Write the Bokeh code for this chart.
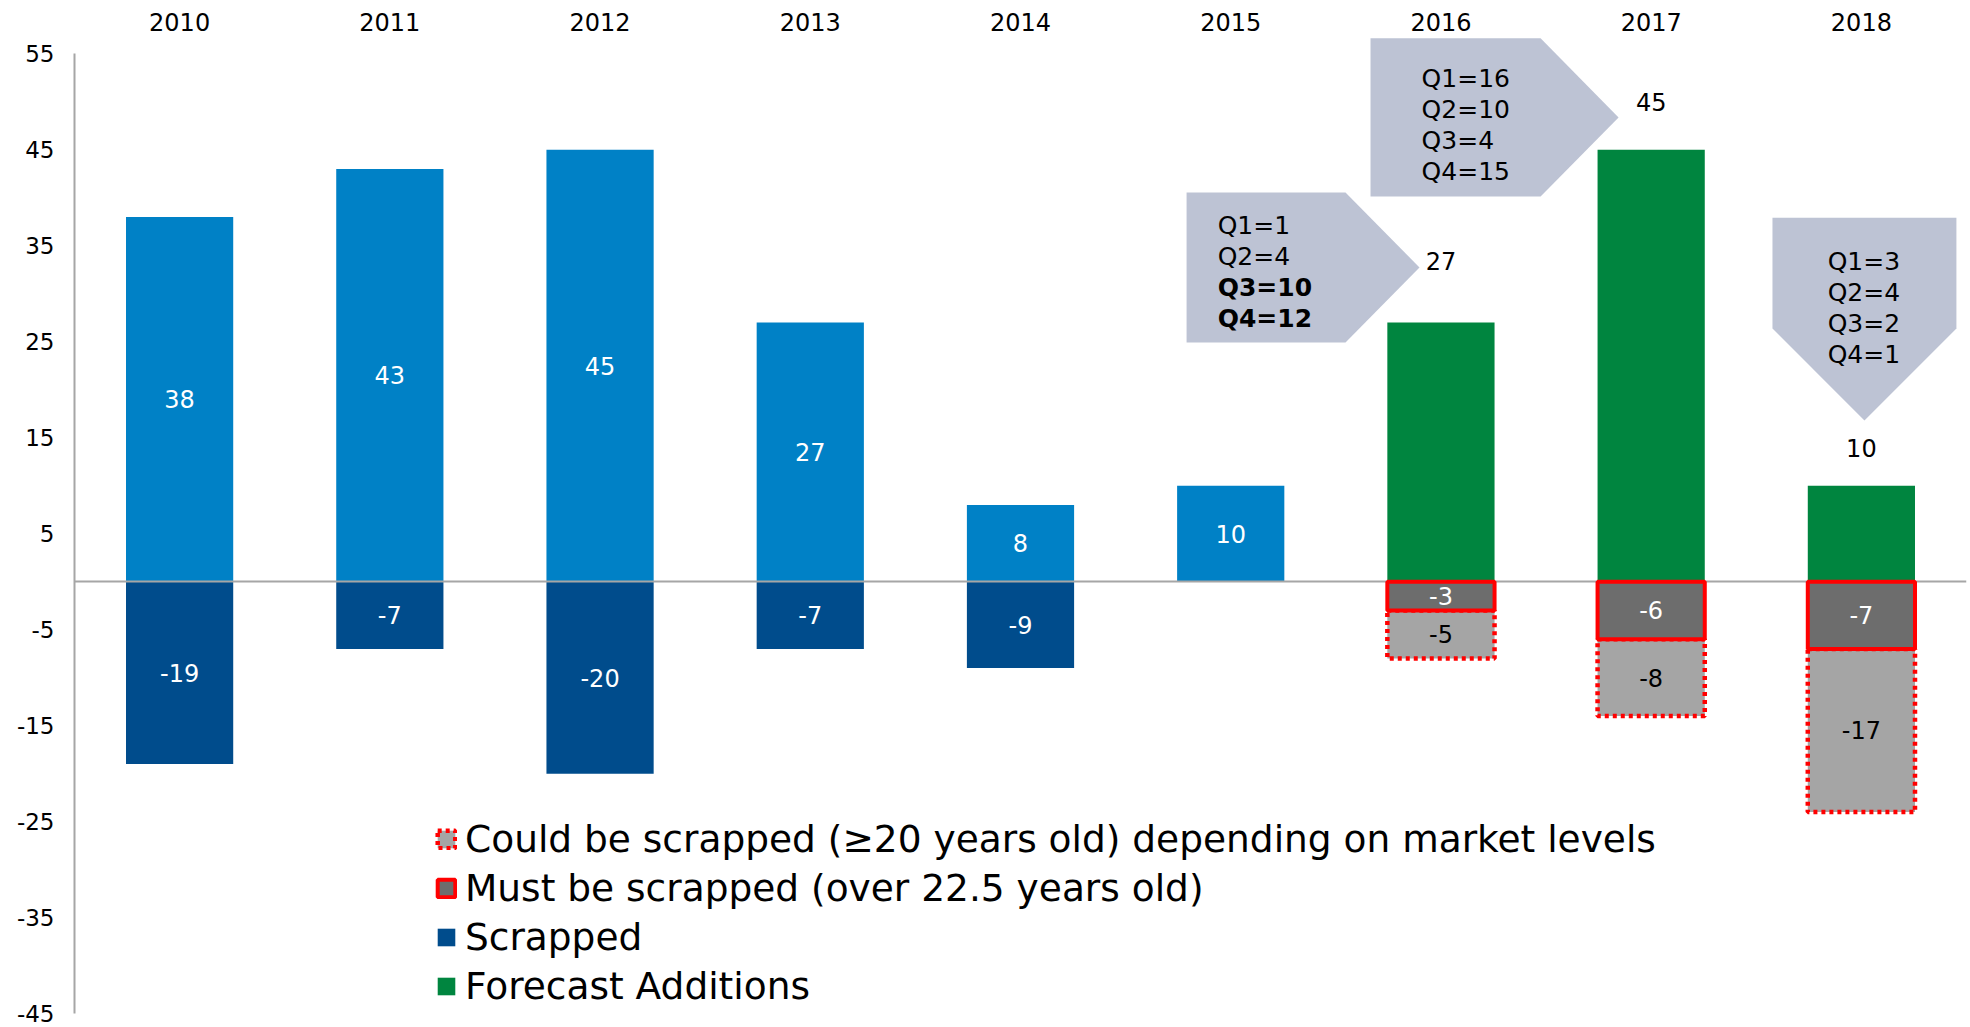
import numpy as np
from bokeh.plotting import figure
from bokeh.models import (ColumnDataSource, FactorRange, Range1d,
                          LinearAxis, FixedTicker, Legend, LegendItem)
from bokeh.core.properties import value
from bokeh.embed import file_html
from bokeh.resources import INLINE

# ---------------- data ----------------
years = ["2010", "2011", "2012", "2013", "2014", "2015", "2016", "2017", "2018"]

actual_years = ["2010", "2011", "2012", "2013", "2014", "2015"]
additions = [38, 43, 45, 27, 8, 10]

scrapped_years = ["2010", "2011", "2012", "2013", "2014"]
scrapped = [-19, -7, -20, -7, -9]

forecast_years = ["2016", "2017", "2018"]
forecast_additions = [27, 45, 10]
must_be_scrapped = [-3, -6, -7]
could_be_scrapped = [-5, -8, -17]

quarter_names = ["Q1", "Q2", "Q3", "Q4"]
quarters_2016 = [1, 4, 10, 12]
quarters_2017 = [16, 10, 4, 15]
quarters_2018 = [3, 4, 2, 1]

y_ticks = [-45, -35, -25, -15, -5, 5, 15, 25, 35, 45, 55]

legend_labels = [
    "Could be scrapped (\u226520 years old) depending on market levels",
    "Must be scrapped (over 22.5 years old)",
    "Scrapped",
    "Forecast Additions",
]

# ---------------- style ----------------
FONT = "DejaVu Sans"
BLUE = "#0081C6"
DARK_BLUE = "#004C8C"
GREEN = "#00853F"
MUST_GRAY = "#6D6D6D"
COULD_GRAY = "#A5A5A5"
RED = "#FF0000"
CALLOUT = "#BDC3D4"
AXIS_GRAY = "#A6A6A6"
BAR_W = 0.51
LABEL_SIZE = "24px"
YEAR_LABEL_Y = 58.25                       # value level of the year captions
forecast_label_offsets = [-61, -48, -38]   # screen px above bar tops

p = figure(x_range=FactorRange(factors=years, range_padding=0, factor_padding=0),
           y_range=Range1d(-46.44, 60.54),
           width=1970, height=1027, output_backend="svg", toolbar_location=None,
           x_axis_location=None, y_axis_location=None,
           min_border_left=74, min_border_right=4, min_border_top=0, min_border_bottom=0,
           outline_line_color=None, background_fill_color="white", border_fill_color="white")
p.xgrid.visible = False
p.ygrid.visible = False

yaxis = LinearAxis(ticker=FixedTicker(ticks=y_ticks), bounds=(-45, 55),
                   axis_line_color=AXIS_GRAY, axis_line_width=2,
                   major_tick_line_color=None, minor_tick_line_color=None,
                   major_tick_out=0, major_tick_in=0,
                   major_label_overrides={t: str(t) for t in y_ticks},
                   major_label_text_font=FONT, major_label_text_font_size="23px",
                   major_label_text_color="black", major_label_standoff=20)
p.add_layout(yaxis, "left")

# year captions along the top
p.text(x=years, y=[YEAR_LABEL_Y] * len(years), text=years, text_align="center",
       text_baseline="middle", text_font=value(FONT), text_font_size="24px",
       text_color="black")

# ---------------- bars ----------------
src_add = ColumnDataSource(dict(x=actual_years, top=additions,
                                mid=[v / 2 for v in additions],
                                label=[str(v) for v in additions]))
src_scr = ColumnDataSource(dict(x=scrapped_years, bottom=scrapped,
                                mid=[v / 2 for v in scrapped],
                                label=[str(v) for v in scrapped]))
could_top = list(must_be_scrapped)
could_bottom = [m + c for m, c in zip(must_be_scrapped, could_be_scrapped)]
src_fc = ColumnDataSource(dict(x=forecast_years, top=forecast_additions,
                               label=[str(v) for v in forecast_additions],
                               yoff=forecast_label_offsets,
                               must=must_be_scrapped,
                               must_mid=[v / 2 for v in must_be_scrapped],
                               must_label=[str(v) for v in must_be_scrapped],
                               could_top=could_top, could_bottom=could_bottom,
                               could_mid=[(a + b) / 2 for a, b in zip(could_top, could_bottom)],
                               could_label=[str(v) for v in could_be_scrapped]))

r_add = p.vbar(x="x", top="top", bottom=0, width=BAR_W, source=src_add,
               fill_color=BLUE, line_color=None)
r_scr = p.vbar(x="x", top=0, bottom="bottom", width=BAR_W, source=src_scr,
               fill_color=DARK_BLUE, line_color=None)
r_fc = p.vbar(x="x", top="top", bottom=0, width=BAR_W, source=src_fc,
              fill_color=GREEN, line_color=None)

p.hspan(y=[0], line_color=AXIS_GRAY, line_width=2)

r_could = p.vbar(x="x", top="could_top", bottom="could_bottom", width=BAR_W, source=src_fc,
                 fill_color=COULD_GRAY, line_color=RED, line_width=4.5, line_dash="4 4")
r_must = p.vbar(x="x", top=0, bottom="must", width=BAR_W, source=src_fc,
                fill_color=MUST_GRAY, line_color=RED, line_width=4)

# value labels
txt = dict(text_align="center", text_baseline="middle",
           text_font=value(FONT), text_font_size=LABEL_SIZE)
p.text(x="x", y="mid", text="label", source=src_add, text_color="white", **txt)
p.text(x="x", y="mid", text="label", source=src_scr, text_color="white", **txt)
p.text(x="x", y="must_mid", text="must_label", source=src_fc, text_color="white", **txt)
p.text(x="x", y="could_mid", text="could_label", source=src_fc, text_color="black", **txt)
p.text(x="x", y="top", text="label", y_offset="yoff", source=src_fc, text_color="black", **txt)

# ---------------- callouts ----------------
LINE_STEP = 3.23  # data units between callout text lines


def right_arrow(left, body_right, tip, top, bottom):
    mid = (top + bottom) / 2
    return [left, body_right, tip, body_right, left], [top, top, mid, bottom, bottom]


def down_arrow(left, right, top, body_bottom, tip_y):
    cx = (left + right) / 2
    return [left, right, right, cx, left], [top, top, body_bottom, tip_y, body_bottom]


cx1, cy1 = right_arrow(5.29, 6.046, 6.398, 40.54, 24.92)
cx2, cy2 = right_arrow(6.165, 6.974, 7.345, 56.6, 40.13)
cx3, cy3 = down_arrow(8.077, 8.952, 37.9, 26.375, 16.79)
p.patches(xs=[cx1, cx2, cx3], ys=[cy1, cy2, cy3], fill_color=CALLOUT, line_color=None)


def callout_text(qvals, x, y0, align, bold_from=None):
    lines = [f"{q}={v}" for q, v in zip(quarter_names, qvals)]
    ys = [y0 - i * LINE_STEP for i in range(len(lines))]
    styles = ["bold" if (bold_from is not None and i >= bold_from) else "normal"
              for i in range(len(lines))]
    src = ColumnDataSource(dict(x=[x] * len(lines), y=ys, text=lines, style=styles))
    p.text(x="x", y="y", text="text", source=src, text_align=align, text_baseline="middle",
           text_font=value(FONT), text_font_size="25px", text_font_style="style",
           text_color="black")


callout_text(quarters_2016, 5.438, 37.1, "left", bold_from=2)
callout_text(quarters_2017, 6.408, 52.4, "left")
callout_text(quarters_2018, 8.512, 33.35, "center")

# ---------------- legend ----------------
legend = Legend(items=[LegendItem(label=legend_labels[0], renderers=[r_could]),
                       LegendItem(label=legend_labels[1], renderers=[r_must]),
                       LegendItem(label=legend_labels[2], renderers=[r_scr]),
                       LegendItem(label=legend_labels[3], renderers=[r_fc])],
                location=(361, 19), orientation="vertical", padding=0, margin=0,
                spacing=5, glyph_width=22, glyph_height=22, label_standoff=8,
                label_text_font=FONT, label_text_font_size="37.5px", label_height=43,
                label_text_color="black",
                border_line_color=None, background_fill_alpha=0)
p.add_layout(legend)

open("out.html", "w").write(file_html(p, INLINE))
